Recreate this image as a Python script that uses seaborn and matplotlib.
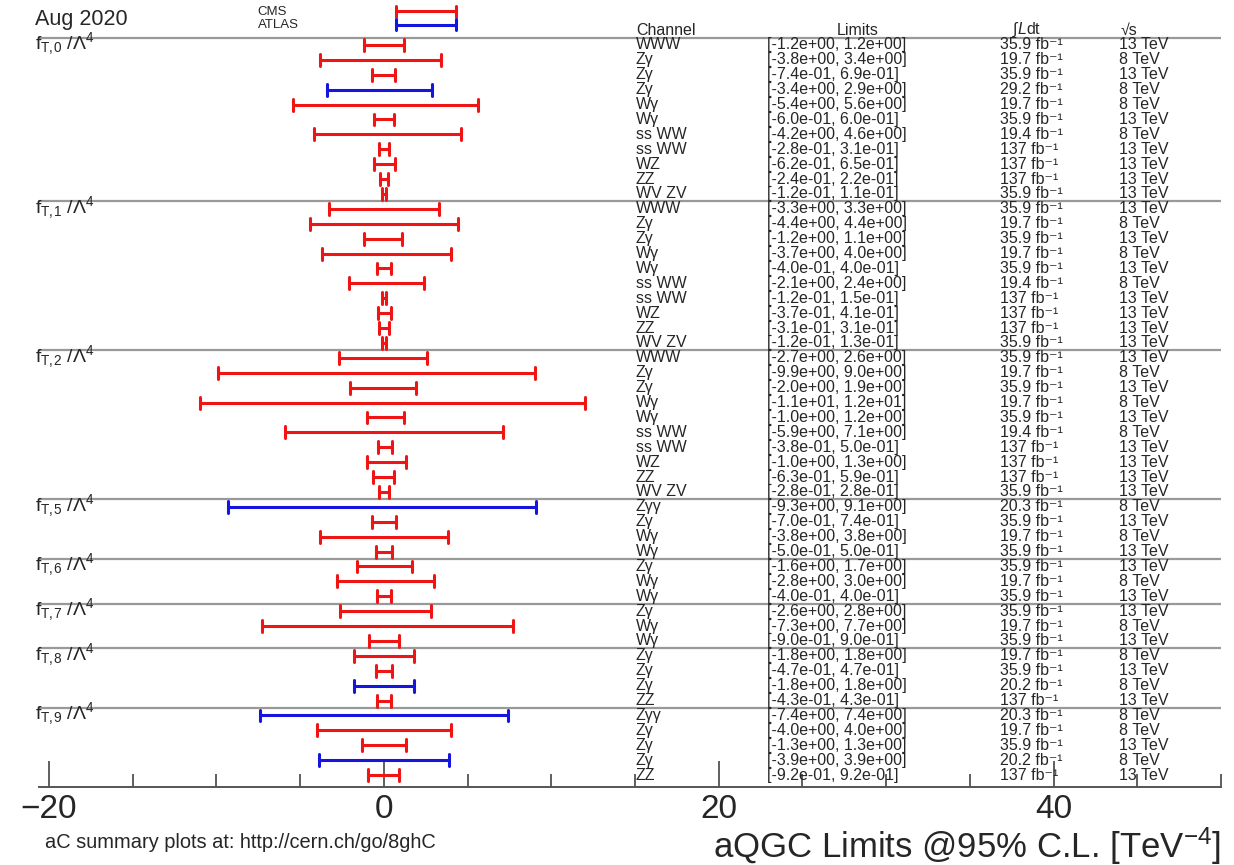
import matplotlib.pyplot as plt
import numpy as np
import pandas as pd
import seaborn as sns
from matplotlib.ticker import MultipleLocator

# Operators and number of measurements in each block
groups = ["T,0", "T,1", "T,2", "T,5", "T,6", "T,7", "T,8", "T,9"]
group_sizes = [11, 10, 10, 4, 3, 3, 4, 5]

channels = [
    "WWW", "Zγ", "Zγ", "Zγ", "Wγ", "Wγ", "ss WW", "ss WW", "WZ", "ZZ", "WV ZV",
    "WWW", "Zγ", "Zγ", "Wγ", "Wγ", "ss WW", "ss WW", "WZ", "ZZ", "WV ZV",
    "WWW", "Zγ", "Zγ", "Wγ", "Wγ", "ss WW", "ss WW", "WZ", "ZZ", "WV ZV",
    "Zγγ", "Zγ", "Wγ", "Wγ",
    "Zγ", "Wγ", "Wγ",
    "Zγ", "Wγ", "Wγ",
    "Zγ", "Zγ", "Zγ", "ZZ",
    "Zγγ", "Zγ", "Zγ", "Zγ", "ZZ",
]
lows = [
    -1.2, -3.8, -0.74, -3.4, -5.4, -0.60, -4.2, -0.28, -0.62, -0.24, -0.12,
    -3.3, -4.4, -1.2, -3.7, -0.40, -2.1, -0.12, -0.37, -0.31, -0.12,
    -2.7, -9.9, -2.0, -11.0, -1.0, -5.9, -0.38, -1.0, -0.63, -0.28,
    -9.3, -0.70, -3.8, -0.50,
    -1.6, -2.8, -0.40,
    -2.6, -7.3, -0.90,
    -1.8, -0.47, -1.8, -0.43,
    -7.4, -4.0, -1.3, -3.9, -0.92,
]
highs = [
    1.2, 3.4, 0.69, 2.9, 5.6, 0.60, 4.6, 0.31, 0.65, 0.22, 0.11,
    3.3, 4.4, 1.1, 4.0, 0.40, 2.4, 0.15, 0.41, 0.31, 0.13,
    2.6, 9.0, 1.9, 12.0, 1.2, 7.1, 0.50, 1.3, 0.59, 0.28,
    9.1, 0.74, 3.8, 0.50,
    1.7, 3.0, 0.40,
    2.8, 7.7, 0.90,
    1.8, 0.47, 1.8, 0.43,
    7.4, 4.0, 1.3, 3.9, 0.92,
]
lumi = [
    35.9, 19.7, 35.9, 29.2, 19.7, 35.9, 19.4, 137, 137, 137, 35.9,
    35.9, 19.7, 35.9, 19.7, 35.9, 19.4, 137, 137, 137, 35.9,
    35.9, 19.7, 35.9, 19.7, 35.9, 19.4, 137, 137, 137, 35.9,
    20.3, 35.9, 19.7, 35.9,
    35.9, 19.7, 35.9,
    35.9, 19.7, 35.9,
    19.7, 35.9, 20.2, 137,
    20.3, 19.7, 35.9, 20.2, 137,
]
energy = [
    13, 8, 13, 8, 8, 13, 8, 13, 13, 13, 13,
    13, 8, 13, 8, 13, 8, 13, 13, 13, 13,
    13, 8, 13, 8, 13, 8, 13, 13, 13, 13,
    8, 13, 8, 13,
    13, 8, 13,
    13, 8, 13,
    8, 13, 8, 13,
    8, 8, 13, 8, 13,
]
experiment = [
    "CMS", "CMS", "CMS", "ATLAS", "CMS", "CMS", "CMS", "CMS", "CMS", "CMS", "CMS",
    "CMS", "CMS", "CMS", "CMS", "CMS", "CMS", "CMS", "CMS", "CMS", "CMS",
    "CMS", "CMS", "CMS", "CMS", "CMS", "CMS", "CMS", "CMS", "CMS", "CMS",
    "ATLAS", "CMS", "CMS", "CMS",
    "CMS", "CMS", "CMS",
    "CMS", "CMS", "CMS",
    "CMS", "CMS", "ATLAS", "CMS",
    "ATLAS", "CMS", "CMS", "ATLAS", "CMS",
]

legend_exp = ["CMS", "ATLAS"]
legend_rows = [-2.28, -1.36]
legend_lo = [0.7, 0.7]
legend_hi = [4.3, 4.3]

colors = {"CMS": "#f01515", "ATLAS": "#1515dd"}

sns.set_style("white")
plt.rcParams["font.family"] = ["Liberation Sans", "DejaVu Sans"]
plt.rcParams["mathtext.fontset"] = "custom"
plt.rcParams["mathtext.rm"] = "Liberation Sans"
plt.rcParams["mathtext.it"] = "Liberation Sans:italic"
plt.rcParams["mathtext.bf"] = "Liberation Sans:bold"

# long format: two values per row so the 0-100 percentile interval spans [low, high]
rows = np.arange(len(channels))
df = pd.DataFrame({
    "row": np.repeat(rows, 2),
    "limit": np.column_stack([lows, highs]).ravel(),
    "exp": np.repeat(experiment, 2),
})
df_leg = pd.DataFrame({
    "row": np.repeat(legend_rows, 2),
    "limit": np.column_stack([legend_lo, legend_hi]).ravel(),
    "exp": np.repeat(legend_exp, 2),
})

fig = plt.figure(figsize=(12.34, 8.65), dpi=100)
ax = fig.add_axes([39 / 1234, 78 / 865, (1221 - 39) / 1234, 787 / 865])

for d in (df, df_leg):
    sns.pointplot(data=d, x="limit", y="row", hue="exp", orient="h", native_scale=True,
                  errorbar=("pi", 100), capsize=0.8, markers="none", linestyles="none",
                  palette=colors, err_kws={"linewidth": 2.2}, legend=False, ax=ax)

ax.set_xlim(-20.6, 50)
ax.set_ylim(49.8, -3.02)
ax.set_xlabel("")
ax.set_ylabel("")

# separators between operator blocks
starts = np.concatenate([[0], np.cumsum(group_sizes)[:-1]])
for s in starts:
    ax.axhline(s - 0.5, color="#999999", lw=1.6, zorder=0)

# x axis in ROOT style
for side in ["left", "top", "right"]:
    ax.spines[side].set_visible(False)
ax.spines["bottom"].set_color("#555555")
ax.spines["bottom"].set_linewidth(1.4)
ax.set_yticks([])
ax.xaxis.set_major_locator(MultipleLocator(20))
ax.xaxis.set_minor_locator(MultipleLocator(5))
ax.tick_params(axis="x", which="major", direction="in", length=19, width=1.2,
               color="#444444", labelsize=24, pad=5, bottom=True)
ax.tick_params(axis="x", which="minor", direction="in", length=9.5, width=1.2,
               color="#444444", bottom=True)

# block labels
for g, s in zip(groups, starts):
    sub = g.replace(",", r",\!")
    ax.text(-20.85, s - 0.1, r"f$_{\mathrm{%s}}$ /$\Lambda^{4}$" % sub, fontsize=14,
            ha="left", va="center", clip_on=False)

# table
tsize = 11.5
x_ch, x_lim, x_lum, x_rs = 15.05, 22.9, 36.8, 43.9
ax.text(x_ch, -1.0, "Channel", fontsize=tsize, ha="left", va="center")
ax.text(28.3, -1.0, "Limits", fontsize=tsize, ha="center", va="center")
ax.text(37.5, -1.0, r"$\int\mathit{L}\mathrm{dt}$", fontsize=tsize, ha="left", va="center")
ax.text(44.0, -1.0, "√s", fontsize=tsize, ha="left", va="center")
for i in rows:
    ax.text(x_ch, i, channels[i], fontsize=tsize, ha="left", va="center")
    ax.text(x_lim, i, f"[{lows[i]:.1e}, {highs[i]:.1e}]", fontsize=tsize, ha="left", va="center")
    ax.text(x_lum, i, f"{lumi[i]:g} fb⁻¹", fontsize=tsize, ha="left", va="center")
    ax.text(x_rs, i, f"{energy[i]} TeV", fontsize=tsize, ha="left", va="center")

# legend labels
for e, r in zip(legend_exp, legend_rows):
    ax.text(-7.55, r + 0.05, e, fontsize=9.5, ha="left", va="center")

fig.text(35 / 1234, 1 - 20 / 865, "Aug 2020", fontsize=15.5, ha="left", va="center")
fig.text(45 / 1234, 1 - 843 / 865, "aC summary plots at: http://cern.ch/go/8ghC",
         fontsize=14.4, ha="left", va="center")
fig.text(1221 / 1234, 1 - 846 / 865, r"aQGC Limits @95% C.L. [TeV$^{-4}$]",
         fontsize=25, ha="right", va="center")

fig.savefig("out.png", dpi=100)
